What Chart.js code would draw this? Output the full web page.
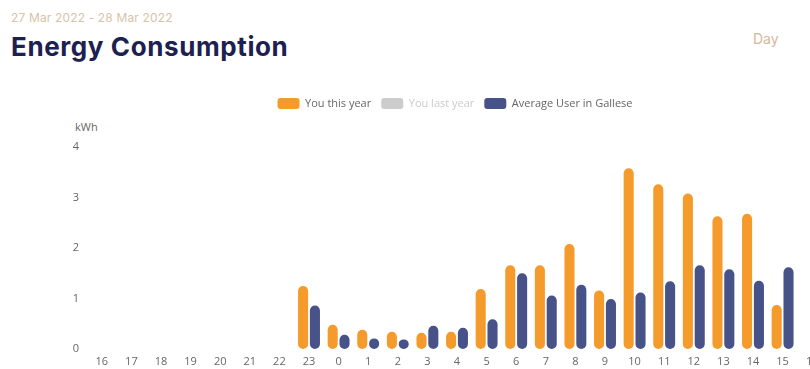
<!DOCTYPE html>
<html>
<head>
<meta charset="utf-8">
<script src="https://cdn.jsdelivr.net/npm/chart.js@4/dist/chart.umd.min.js"></script>
<style>
  html, body { margin: 0; padding: 0; width: 810px; height: 369px; overflow: hidden; background: #ffffff; }
  #date { position: absolute; left: 11px; top: 10px; font-family: Inter, sans-serif; font-size: 12px; color: #d9c2a8; white-space: nowrap; letter-spacing: 0.15px; }
  #title { position: absolute; left: 11px; top: 31px; font-family: Inter, sans-serif; font-weight: 700; font-size: 26px; color: #1c2150; white-space: nowrap; letter-spacing: 0.6px; }
  #day { position: absolute; left: 753px; top: 30px; font-family: Inter, sans-serif; font-size: 14px; color: #d6b898; }
  #unit { position: absolute; left: 75px; top: 119px; font-family: "Open Sans", sans-serif; font-size: 11px; color: #666666; }
  #wrap { position: absolute; left: 0; top: 88px; width: 860px; height: 281px; }
</style>
</head>
<body>
<div id="date">27 Mar 2022 - 28 Mar 2022</div>
<div id="title">Energy Consumption</div>
<div id="day">Day</div>
<div id="unit">kWh</div>
<div id="wrap"><canvas id="c"></canvas></div>
<script>
const hours = ['16','17','18','19','20','21','22','23','0','1','2','3','4','5','6','7','8','9','10','11','12','13','14','15','16'];
const youThisYear = [null,null,null,null,null,null,null,1.25,0.48,0.38,0.34,0.32,0.34,1.19,1.66,1.66,2.08,1.16,3.58,3.26,3.08,2.63,2.68,0.87,null];
const youLastYear = [null,null,null,null,null,null,null,null,null,null,null,null,null,null,null,null,null,null,null,null,null,null,null,null,null];
const averageUser = [null,null,null,null,null,null,null,0.86,0.28,0.21,0.19,0.46,0.42,0.59,1.50,1.06,1.27,0.99,1.12,1.34,1.66,1.58,1.35,1.62,null];
const yMin = 0, yMax = 4, yStep = 1;

const ORANGE = '#f59b2b';
const GREY = '#cccccc';
const NAVY = '#465288';

const legendSpace = {
  id: 'legendSpace',
  beforeInit(chart) {
    const lg = chart.legend;
    const fit = lg.fit;
    lg.fit = function () {
      fit.call(this);
      this.height = 59;
    };
    const draw = lg.draw;
    lg.draw = function () {
      const l = this.left;
      this.left = l + 18;
      draw.apply(this, arguments);
      this.left = l;
    };
  }
};

new Chart(document.getElementById('c'), {
  type: 'bar',
  data: {
    labels: hours,
    datasets: [
      { label: 'You this year', data: youThisYear, backgroundColor: ORANGE },
      { label: 'You last year', data: youLastYear, backgroundColor: GREY, hidden: true },
      { label: 'Average User in Gallese', data: averageUser, backgroundColor: NAVY }
    ]
  },
  options: {
    responsive: true,
    maintainAspectRatio: false,
    animation: false,
    layout: { padding: { left: 65, right: 33, top: 0, bottom: 0 } },
    datasets: {
      bar: {
        categoryPercentage: 0.8,
        barPercentage: 0.85,
        borderRadius: 6,
        borderSkipped: false,
        borderWidth: 0
      }
    },
    scales: {
      x: {
        grid: { display: false, drawTicks: false },
        border: { display: false },
        ticks: { color: '#666666', font: { family: 'Open Sans', size: 11 }, padding: 6, maxRotation: 0, autoSkip: false },
        afterFit(s) { s.height = 20; }
      },
      y: {
        min: yMin,
        max: yMax,
        grid: { display: false, drawTicks: false },
        border: { display: false },
        ticks: { stepSize: yStep, color: '#666666', font: { family: 'Open Sans', size: 11 }, padding: 8 },
        afterFit(s) { s.width = 22; }
      }
    },
    plugins: {
      tooltip: { enabled: false },
      legend: {
        position: 'top',
        labels: {
          boxWidth: 22,
          boxHeight: 11,
          useBorderRadius: true,
          borderRadius: 3,
          padding: 10,
          color: '#666666',
          font: { family: 'Open Sans', size: 11 },
          generateLabels(chart) {
            const items = Chart.defaults.plugins.legend.labels.generateLabels(chart);
            return items.map(it => {
              const ds = chart.data.datasets[it.datasetIndex];
              const hid = !chart.isDatasetVisible(it.datasetIndex);
              return Object.assign(it, {
                hidden: false,
                lineWidth: 0,
                fillStyle: hid ? GREY : ds.backgroundColor,
                strokeStyle: hid ? GREY : ds.backgroundColor,
                fontColor: hid ? '#cccccc' : '#666666'
              });
            });
          }
        }
      }
    }
  },
  plugins: [legendSpace]
});
</script>
</body>
</html>
